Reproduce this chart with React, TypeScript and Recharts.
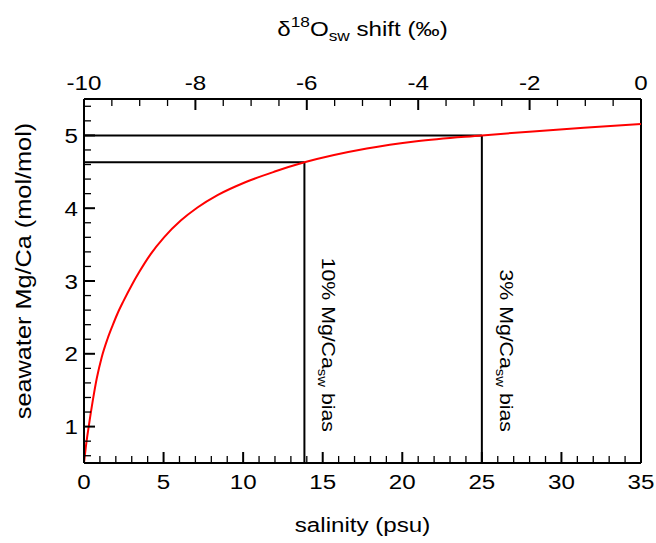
import React from 'react';
import { LineChart, Line, XAxis, YAxis, ReferenceLine } from 'recharts';

// salinity (psu) and seawater Mg/Ca (mol/mol)
const salinity = [0, 0.15, 0.31, 0.57, 0.8, 1.11, 1.47, 1.8, 2.1, 2.47, 3.04, 3.46, 4.19, 5.03, 6.08, 7.13, 8.39, 10.06, 11.94, 13.85, 17.77, 20.9, 25, 28.2, 31.4, 35];
const mgca = [0.5, 0.78, 1.02, 1.38, 1.66, 1.95, 2.2, 2.39, 2.55, 2.72, 2.96, 3.12, 3.37, 3.6, 3.83, 4.01, 4.18, 4.35, 4.5, 4.63, 4.82, 4.92, 5.0, 5.055, 5.105, 5.155];

// bias markers
const bias10 = { s: 13.85, v: 4.63, label: '10%' };
const bias3 = { s: 25, v: 5.0, label: '3%' };

// axis ticks
const salTicks = [0, 1, 2, 3, 4, 5, 6, 7, 8, 9, 10, 11, 12, 13, 14, 15, 16, 17, 18, 19, 20, 21, 22, 23, 24, 25, 26, 27, 28, 29, 30, 31, 32, 33, 34, 35];
const salMajor = [0, 5, 10, 15, 20, 25, 30, 35];
const d18Ticks = [-10, -9.5, -9, -8.5, -8, -7.5, -7, -6.5, -6, -5.5, -5, -4.5, -4, -3.5, -3, -2.5, -2, -1.5, -1, -0.5, 0];
const d18Major = [-10, -8, -6, -4, -2, 0];
const mgTicks = [0.6, 0.8, 1, 1.2, 1.4, 1.6, 1.8, 2, 2.2, 2.4, 2.6, 2.8, 3, 3.2, 3.4, 3.6, 3.8, 4, 4.2, 4.4, 4.6, 4.8, 5, 5.2, 5.4];
const mgMajor = [1, 2, 3, 4, 5];

const rows = salinity.map((s, i) => ({ s, v: mgca[i] }));

const FONT = '"Liberation Sans", Arial, Helvetica, sans-serif';
const SX = 1.15;

function SText({ x, y, rotate = 0, anchor = 'middle', size = 21, children }: any) {
  return (
    <text
      transform={`translate(${x},${y}) rotate(${rotate}) scale(${SX},1)`}
      x={0}
      y={0}
      textAnchor={anchor}
      fontSize={size}
      fontFamily={FONT}
      fill="#000"
    >
      {children}
    </text>
  );
}

const BottomTick = (props: any) => {
  const { x, y, payload } = props;
  const v = payload.value;
  const major = salMajor.includes(v);
  return (
    <g>
      <line x1={x} x2={x} y1={y} y2={y - (major ? 11 : 7)} stroke="#000" strokeWidth={major ? 2 : 1.3} />
      {major && <SText x={x} y={y + 26}>{v}</SText>}
    </g>
  );
};

const TopTick = (props: any) => {
  const { x, y, payload } = props;
  const v = payload.value;
  const major = d18Major.includes(v);
  return (
    <g>
      <line x1={x} x2={x} y1={y} y2={y + (major ? 11 : 7)} stroke="#000" strokeWidth={major ? 2 : 1.3} />
      {major && <SText x={x} y={y - 9}>{v}</SText>}
    </g>
  );
};

const LeftTick = (props: any) => {
  const { x, y, payload } = props;
  const v = payload.value;
  const major = mgMajor.some((m) => Math.abs(m - v) < 1e-6);
  return (
    <g>
      <line x1={x} x2={x + (major ? 11 : 7)} y1={y} y2={y} stroke="#000" strokeWidth={major ? 2 : 1.3} />
      {major && <SText x={x - 6} y={y + 7.5} anchor="end">{v}</SText>}
    </g>
  );
};

const bottomLabel = (p: any) => {
  const vb = p.viewBox || { x: 84, y: 463, width: 557, height: 30 };
  return <SText x={vb.x + vb.width / 2} y={532}>salinity (psu)</SText>;
};

const topLabel = (p: any) => {
  const vb = p.viewBox || { x: 84, y: 69, width: 557, height: 30 };
  const cx = vb.x + vb.width / 2;
  return (
    <text transform={`translate(${cx},36) scale(${SX},1)`} x={0} y={0} textAnchor="middle" fontSize={21} fontFamily={FONT} fill="#000">
      <tspan>δ</tspan>
      <tspan fontSize={15} dy={-9}>18</tspan>
      <tspan dy={9}>O</tspan>
      <tspan fontSize={15} dy={5}>sw</tspan>
      <tspan dy={-5}> shift (‰)</tspan>
    </text>
  );
};

const leftLabel = (p: any) => {
  const vb = p.viewBox || { x: 44, y: 99, width: 40, height: 364 };
  return <SText x={31} y={vb.y + vb.height / 2 - 10} rotate={-90} size={22}>seawater Mg/Ca (mol/mol)</SText>;
};

const biasLabel = (pct: string) => (p: any) => {
  const vb = p.viewBox || { x: 0, y: 0, width: 0, height: 0 };
  const x = vb.x + 18;
  const y = vb.y + vb.height - 31;
  return (
    <text transform={`translate(${x},${y}) rotate(90) scale(${SX},1)`} x={0} y={0} textAnchor="end" fontSize={18.5} fontFamily={FONT} fill="#000">
      <tspan>{pct} Mg/Ca</tspan>
      <tspan fontSize={13} dy={4}>sw</tspan>
      <tspan dy={-4}> bias</tspan>
    </text>
  );
};

export default function App() {
  return (
    <div style={{ position: 'absolute', left: 0, top: 0, width: 656, height: 543, background: '#fff' }}>
      <LineChart width={656} height={543} data={rows} margin={{ top: 69, right: 15, bottom: 50, left: 44 }}>
        <XAxis
          xAxisId="bottom"
          dataKey="s"
          type="number"
          domain={[0, 35]}
          ticks={salTicks}
          interval={0}
          tickSize={0}
          tickMargin={0}
          tickLine={false}
          tick={BottomTick}
          axisLine={{ stroke: '#000', strokeWidth: 2 }}
          height={30}
          allowDataOverflow
          label={{ content: bottomLabel }}
        />
        <XAxis
          xAxisId="top"
          dataKey="d18"
          orientation="top"
          type="number"
          domain={[-10, 0]}
          ticks={d18Ticks}
          interval={0}
          tickSize={0}
          tickMargin={0}
          tickLine={false}
          tick={TopTick}
          axisLine={{ stroke: '#000', strokeWidth: 2 }}
          height={30}
          allowDataOverflow
          label={{ content: topLabel }}
        />
        <YAxis
          yAxisId="left"
          type="number"
          domain={[0.5, 5.5]}
          ticks={mgTicks}
          interval={0}
          tickSize={0}
          tickMargin={0}
          tickLine={false}
          tick={LeftTick}
          axisLine={{ stroke: '#000', strokeWidth: 2 }}
          width={40}
          allowDataOverflow
          label={{ content: leftLabel }}
        />
        <ReferenceLine xAxisId="bottom" yAxisId="left" x={35} stroke="#000" strokeWidth={2} />
        <ReferenceLine
          xAxisId="bottom"
          yAxisId="left"
          segment={[{ x: 0, y: bias10.v }, { x: bias10.s, y: bias10.v }]}
          stroke="#000"
          strokeWidth={2}
        />
        <ReferenceLine
          xAxisId="bottom"
          yAxisId="left"
          segment={[{ x: bias10.s, y: 0.5 }, { x: bias10.s, y: bias10.v }]}
          stroke="#000"
          strokeWidth={2}
          label={{ content: biasLabel(bias10.label) }}
        />
        <ReferenceLine
          xAxisId="bottom"
          yAxisId="left"
          segment={[{ x: 0, y: bias3.v }, { x: bias3.s, y: bias3.v }]}
          stroke="#000"
          strokeWidth={2}
        />
        <ReferenceLine
          xAxisId="bottom"
          yAxisId="left"
          segment={[{ x: bias3.s, y: 0.5 }, { x: bias3.s, y: bias3.v }]}
          stroke="#000"
          strokeWidth={2}
          label={{ content: biasLabel(bias3.label) }}
        />
        <Line
          xAxisId="bottom"
          yAxisId="left"
          dataKey="v"
          type="monotone"
          stroke="#ff0000"
          strokeWidth={2}
          dot={false}
          isAnimationActive={false}
        />
      </LineChart>
    </div>
  );
}
